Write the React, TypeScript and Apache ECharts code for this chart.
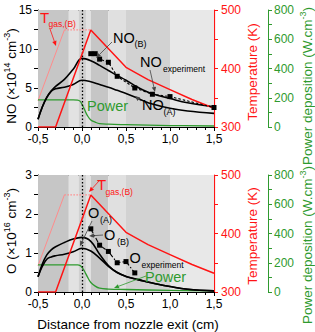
import React, { useEffect, useRef } from 'react';
import * as echarts from 'echarts';

// ---------- data ----------
const X_RANGE = [-0.5, 1.5];
const NO_RANGE = [0, 15];
const O_RANGE = [0, 3];
const T_RANGE = [300, 500];
const P_RANGE = [0, 800];

const NO_X = [-0.5, -0.45, -0.4, -0.35, -0.3, -0.2, -0.1, 0, 0.1, 0.2, 0.3, 0.4, 0.5, 0.6, 0.7, 0.8, 1.0, 1.2, 1.5];
const NO_B = [1.0, 2.6, 3.8, 4.6, 5.2, 6.1, 7.4, 8.8, 8.5, 7.9, 7.25, 6.6, 6.0, 5.3, 4.7, 4.25, 3.65, 3.1, 2.6];
const NO_A = [1.0, 2.6, 3.8, 4.6, 4.9, 5.1, 5.45, 6.0, 5.8, 5.45, 5.1, 4.7, 4.3, 3.85, 3.35, 2.95, 2.4, 2.05, 1.75];
const NO_EXP_X = [0.1, 0.15, 0.2, 0.3, 0.4, 0.6, 0.8, 1.0, 1.5];
const NO_EXP = [9.4, 9.4, 8.7, 8.3, 6.5, 5.0, 4.2, 3.9, 2.5];

const O_X = [-0.5, -0.45, -0.4, -0.35, -0.3, -0.2, -0.1, 0, 0.1, 0.2, 0.3, 0.4, 0.5, 0.6, 0.7, 0.8, 1.0, 1.2, 1.5];
const O_B = [0.39, 0.72, 0.95, 1.08, 1.16, 1.27, 1.36, 1.4, 1.3, 0.97, 0.68, 0.5, 0.4, 0.34, 0.28, 0.23, 0.14, 0.07, 0.03];
const O_A = [0.39, 0.66, 0.84, 0.9, 0.93, 0.97, 1.03, 1.12, 1.05, 0.87, 0.66, 0.5, 0.4, 0.34, 0.28, 0.23, 0.14, 0.07, 0.03];
const O_EXP_X = [0.1, 0.2, 0.3, 0.4, 0.5, 0.6];
const O_EXP = [1.62, 1.2, 1.04, 0.75, 0.78, 0.49];

const T_X = [-0.5, -0.3, 0.1, 0.5, 0.75, 1.0, 1.25, 1.5];
const T_GAS = [300, 300, 466, 402, 381, 364, 347, 332];
const T_ALT_X = [-0.5, -0.2];
const T_ALT = [345, 466];
const T_ALT2_X = [-0.2, 0.1];
const T_ALT2 = [466, 466];

const P_X = [-0.5, -0.1, -0.05, -0.02, 0, 0.03, 0.06, 0.1, 0.15, 0.2, 0.3, 0.5, 1.0, 1.5];
const P_TOP = [185, 185, 184, 175, 155, 118, 80, 48, 33, 23, 19, 16, 10, 7];
const P_BOT = [185, 185, 185, 180, 168, 140, 105, 65, 40, 26, 20, 17, 11, 8];

const BAND_EDGES = [-0.5, -0.15, -0.04, 0.045, 0.1, 0.3, 0.5, 1.0, 1.5];

// ---------- style ----------
const FONT = "'Liberation Sans', Arial, Helvetica, sans-serif";
const RED = '#ff1414';
const GREEN = '#2f9a2f';
const PINK = '#ff8c8c';
const BAND_SHADE = ['#c6c6c6', '#e2e2e2', '#d0d0d0', '#e2e2e2', '#c6c6c6', '#e0e0e0', '#d2d2d2', '#e8e8e8'];

const fmtX = (v: number) => (v < 0 ? '-' : '') + Math.abs(v).toFixed(1).replace('.', ',');
const pairs = (xs: number[], ys: number[]) => xs.map((x, i) => [x, ys[i]]);

function xAxes(gi: number) {
  return [
    {
      type: 'value', gridIndex: gi, min: X_RANGE[0], max: X_RANGE[1], interval: 0.5, position: 'bottom',
      axisLine: { show: true, onZero: false, lineStyle: { color: '#000', width: 1 } },
      axisTick: { show: true, length: 4, lineStyle: { color: '#000' } },
      minorTick: { show: true, splitNumber: 5, length: 3, lineStyle: { color: '#000' } },
      splitLine: { show: false },
      axisLabel: { fontFamily: FONT, fontSize: 12, color: '#000', margin: 6, formatter: fmtX },
    },
    {
      type: 'value', gridIndex: gi, min: X_RANGE[0], max: X_RANGE[1], position: 'top',
      axisLine: { show: true, onZero: false, lineStyle: { color: '#333', width: 1 } },
      axisTick: { show: false }, axisLabel: { show: false }, splitLine: { show: false },
    },
  ];
}

function yAxes(gi: number, range: number[], interval: number) {
  return [
    {
      type: 'value', gridIndex: gi, min: range[0], max: range[1], interval, position: 'left',
      axisLine: { show: true, onZero: false, lineStyle: { color: '#000' } },
      axisTick: { show: true, length: 4, lineStyle: { color: '#000' } },
      minorTick: { show: true, splitNumber: 2, length: 4, lineStyle: { color: '#000' } },
      splitLine: { show: false },
      axisLabel: { fontFamily: FONT, fontSize: 12, color: '#000', margin: 6 },
    },
    {
      type: 'value', gridIndex: gi, min: T_RANGE[0], max: T_RANGE[1], interval: 100, position: 'right',
      axisLine: { show: true, onZero: false, lineStyle: { color: RED, width: 1.2 } },
      axisTick: { show: true, length: 4, lineStyle: { color: RED } },
      minorTick: { show: true, splitNumber: 2, length: 4, lineStyle: { color: RED } },
      splitLine: { show: false },
      axisLabel: { fontFamily: FONT, fontSize: 12, color: RED, margin: 7 },
    },
    {
      type: 'value', gridIndex: gi, min: P_RANGE[0], max: P_RANGE[1], interval: 200, position: 'right', offset: 54,
      axisLine: { show: true, onZero: false, lineStyle: { color: GREEN, width: 1 } },
      axisTick: { show: true, length: 4, lineStyle: { color: GREEN } },
      minorTick: { show: true, splitNumber: 2, length: 4, lineStyle: { color: GREEN } },
      splitLine: { show: false },
      axisLabel: { fontFamily: FONT, fontSize: 12, color: GREEN, margin: 6 },
    },
  ];
}

function bandSeries(xi: number, yi: number) {
  const areas = [];
  for (let i = 0; i < BAND_EDGES.length - 1; i++) {
    areas.push([{ xAxis: BAND_EDGES[i], itemStyle: { color: BAND_SHADE[i] } }, { xAxis: BAND_EDGES[i + 1] }]);
  }
  return {
    type: 'line', xAxisIndex: xi, yAxisIndex: yi, data: [], z: 1, silent: true,
    markArea: { silent: true, data: areas },
    markLine: {
      silent: true, symbol: ['none', 'none'], label: { show: false },
      lineStyle: { type: [1.5, 2], color: '#000', width: 1.3 },
      data: [{ xAxis: 0 }],
    },
  };
}

function line(xi: number, yi: number, xs: number[], ys: number[], color: string, width: number, smooth: number | boolean, extra: any = {}) {
  return {
    type: 'line', xAxisIndex: xi, yAxisIndex: yi, data: pairs(xs, ys), smooth, showSymbol: false, symbol: 'none',
    lineStyle: { color, width, ...(extra.lineStyle || {}) }, z: extra.z || 4, silent: true,
    ...(extra.rest || {}),
  };
}

function expSeries(xi: number, yi: number, xs: number[], ys: number[], dash: number[]) {
  return {
    type: 'line', xAxisIndex: xi, yAxisIndex: yi, data: pairs(xs, ys), symbol: 'rect', symbolSize: 5, showSymbol: true,
    itemStyle: { color: '#000' }, lineStyle: { color: '#000', width: 1.1, type: dash }, z: 6, silent: true,
  };
}

// ---------- annotations ----------
function txt(x: number, y: number, text: string, size: number, color: string, align = 'left') {
  return { type: 'text', x, y, z: 100, silent: true, style: { text, fontFamily: FONT, fontSize: size, fill: color, align, verticalAlign: 'middle' } };
}
function arrow(x1: number, y1: number, x2: number, y2: number, color: string, w = 0.8) {
  const a = Math.atan2(y2 - y1, x2 - x1);
  const L = 5, W = 2.2;
  const bx = x2 - L * Math.cos(a), by = y2 - L * Math.sin(a);
  const px = -Math.sin(a) * W, py = Math.cos(a) * W;
  return [
    { type: 'line', z: 100, silent: true, shape: { x1, y1, x2: bx, y2: by }, style: { stroke: color, lineWidth: w } },
    { type: 'polygon', z: 100, silent: true, shape: { points: [[x2, y2], [bx + px, by + py], [bx - px, by - py]] }, style: { fill: color } },
  ];
}
function vtitle(x: number, y: number, parts: [string, boolean][], color: string) {
  const text = parts.map(([t, sup]) => (sup ? `{s|${t}}` : `{a|${t}}`)).join('');
  return {
    type: 'text', x, y, rotation: Math.PI / 2, z: 100, silent: true,
    style: {
      text, align: 'center', verticalAlign: 'middle', fill: color, fontFamily: FONT, fontSize: 13.5,
      rich: {
        a: { fontFamily: FONT, fontSize: 13.5, lineHeight: 18, fill: color },
        s: { fontFamily: FONT, fontSize: 9, lineHeight: 10, fill: color, verticalAlign: 'top' },
      },
    },
  };
}

const graphics: any[] = [
  // top panel labels
  txt(40, 17, 'T', 15, RED), txt(48.5, 23.5, 'gas,(B)', 8.5, RED),
  ...arrow(50, 29, 56, 46, RED),
  txt(113, 37.5, 'NO', 14.5, '#000'), txt(134.5, 43.5, '(B)', 9, '#000'),
  ...arrow(112, 42, 96, 58, '#444'),
  txt(140, 62, 'NO', 14.5, '#000'), txt(163, 69, 'experiment', 8.5, '#000'),
  ...arrow(150, 70, 155, 92, '#444'),
  txt(142, 105, 'NO', 14.5, '#000'), txt(163.5, 111.5, '(A)', 9, '#000'),
  ...arrow(141, 101, 135, 96, '#444'),
  txt(87, 106, 'Power', 14.5, GREEN),
  // bottom panel labels
  txt(97, 184, 'T', 15, RED), txt(105.5, 191.5, 'gas,(B)', 8.5, RED),
  ...arrow(99, 181, 89, 192, RED),
  txt(88, 213, 'O', 14.5, '#000'), txt(100, 220, '(A)', 9, '#000'),
  ...arrow(92, 221, 80, 246, '#444'),
  txt(104, 235, 'O', 14.5, '#000'), txt(117, 241.5, '(B)', 9, '#000'),
  ...arrow(103, 235, 89, 236, '#444'),
  txt(129.5, 257.5, 'O', 14.5, '#000'), txt(141.5, 265, 'experiment', 8.5, '#000'),
  txt(145, 277, 'Power', 14.5, GREEN),
  ...arrow(146, 276, 114, 288, GREEN),
  // axis titles
  vtitle(11, 76, [['NO (×10', false], ['14', true], [' cm', false], ['-3', true], [')', false]], '#000'),
  vtitle(11, 231, [['O (×10', false], ['16', true], [' cm', false], ['-3', true], [')', false]], '#000'),
  vtitle(252, 72, [['Temperature (K)', false]], RED),
  vtitle(252, 236, [['Temperature (K)', false]], RED),
  vtitle(307, 86, [['Power deposition (W.cm', false], ['-3', true], [')', false]], GREEN),
  vtitle(307, 245, [['Power deposition (W.cm', false], ['-3', true], [')', false]], GREEN),
  {
    type: 'text', x: 128, y: 324, z: 100, silent: true,
    style: { text: 'Distance from nozzle exit (cm)', fontFamily: FONT, fontSize: 13.5, fill: '#000', align: 'center', verticalAlign: 'middle' },
  },
];

const option: any = {
  animation: false,
  backgroundColor: '#fff',
  grid: [
    { left: 38, top: 10, width: 176, height: 117 },
    { left: 38, top: 175, width: 176, height: 117 },
  ],
  xAxis: [...xAxes(0), ...xAxes(1)],
  yAxis: [...yAxes(0, NO_RANGE, 5), ...yAxes(1, O_RANGE, 1)],
  series: [
    // top panel
    bandSeries(0, 0),
    line(0, 1, T_ALT_X, T_ALT, PINK, 1, false, { z: 3 }),
    line(0, 1, T_ALT2_X, T_ALT2, PINK, 1.2, false, { z: 3, lineStyle: { type: [1.5, 1.5] } }),
    line(0, 2, P_X, P_TOP, GREEN, 1.3, 0.4),
    line(0, 0, NO_X, NO_A, '#000', 1.6, 0.4),
    line(0, 0, NO_X, NO_B, '#000', 1.6, 0.4),
    expSeries(0, 0, NO_EXP_X, NO_EXP, [2.5, 2]),
    line(0, 1, T_X, T_GAS, RED, 1.5, false, { z: 5 }),
    // bottom panel
    bandSeries(2, 3),
    line(2, 4, T_ALT_X, T_ALT, PINK, 1, false, { z: 3 }),
    line(2, 4, T_ALT2_X, T_ALT2, PINK, 1.2, false, { z: 3, lineStyle: { type: [1.5, 1.5] } }),
    line(2, 5, P_X, P_BOT, GREEN, 1.3, 0.4),
    line(2, 3, O_X, O_A, '#000', 1.6, 0.4),
    line(2, 3, O_X, O_B, '#000', 1.6, 0.4),
    expSeries(2, 3, O_EXP_X, O_EXP, [5, 2, 1.5, 2]),
    line(2, 4, T_X, T_GAS, RED, 1.5, false, { z: 5 }),
  ],
  graphic: graphics,
};

export default function App() {
  const ref = useRef<HTMLDivElement>(null);
  useEffect(() => {
    const chart = echarts.init(ref.current!, undefined, { renderer: 'svg' });
    chart.setOption(option);
    return () => chart.dispose();
  }, []);
  return <div ref={ref} style={{ position: 'fixed', left: 0, top: 0, width: 315, height: 332 }} />;
}
